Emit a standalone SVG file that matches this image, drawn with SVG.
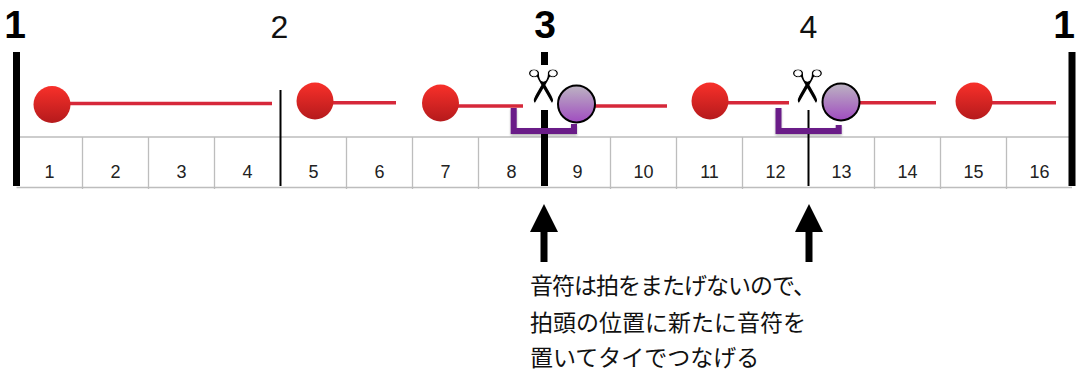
<svg xmlns="http://www.w3.org/2000/svg" width="1076" height="371" viewBox="0 0 1076 371">
<defs>
<linearGradient id="red" x1="0" y1="0" x2="0" y2="1">
<stop offset="0" stop-color="#f8302a"/>
<stop offset="1" stop-color="#b51a1c"/>
</linearGradient>
<linearGradient id="purple" x1="0" y1="0" x2="0" y2="1">
<stop offset="0" stop-color="#bcb4c2"/>
<stop offset="1" stop-color="#a04cc0"/>
</linearGradient>
<filter id="sh" x="-20%" y="-20%" width="140%" height="160%">
<feDropShadow dx="0" dy="1.5" stdDeviation="1.2" flood-color="#000" flood-opacity="0.3"/>
</filter>
<marker id="ah" viewBox="0 0 28 28" refX="14" refY="14" markerWidth="28" markerHeight="28" markerUnits="userSpaceOnUse" orient="auto">
<path d="M0,0 L28,14 L0,28 z" fill="#000"/>
</marker>
</defs>
<style>
.grid{stroke:#bdbdbd;stroke-width:1.3;fill:none}
.cell{font-family:"Liberation Sans",Arial,sans-serif;font-size:18px;fill:#222;text-anchor:middle}
.big{font-family:"Liberation Sans",Arial,sans-serif;font-size:39px;font-weight:bold;fill:#000;text-anchor:middle}
.beat{font-family:"Liberation Sans",Arial,sans-serif;font-size:32px;fill:#111;text-anchor:middle}
.tie{stroke:#d6283a;stroke-width:3.5;fill:none}
.rn{fill:url(#red)}
.pn{fill:url(#purple);stroke:#000;stroke-width:2}
.br{fill:none;stroke:#6a1f88;stroke-width:6;stroke-linejoin:miter;filter:url(#sh)}
.sc{font-family:"DejaVu Sans",sans-serif;font-size:38px;fill:#000;stroke:#fff;stroke-width:0.7;text-anchor:middle}
.note{font-family:"Noto Sans CJK JP","Noto Sans CJK SC",sans-serif;font-size:23px;fill:#111}
</style>
<rect width="1076" height="371" fill="#fff"/>
<g id="grid">
<line class="grid" x1="16.5" y1="137" x2="1072" y2="137"/>
<line class="grid" x1="16.5" y1="187.5" x2="1072" y2="187.5"/>
<path class="grid" d="M82.5,137V189M148.5,137V189M214.5,137V189M346.5,137V189M412.5,137V189M478.5,137V189M610.5,137V189M676.5,137V189M742.5,137V189M874.5,137V189M940.5,137V189M1006.5,137V189"/>
</g>
<g id="cells">
<text class="cell" x="49.5" y="178">1</text>
<text class="cell" x="115.5" y="178">2</text>
<text class="cell" x="181.5" y="178">3</text>
<text class="cell" x="247.5" y="178">4</text>
<text class="cell" x="313.5" y="178">5</text>
<text class="cell" x="379.5" y="178">6</text>
<text class="cell" x="445.5" y="178">7</text>
<text class="cell" x="511.5" y="178">8</text>
<text class="cell" x="577.5" y="178">9</text>
<text class="cell" x="643.5" y="178">10</text>
<text class="cell" x="709.5" y="178">11</text>
<text class="cell" x="775.5" y="178">12</text>
<text class="cell" x="841.5" y="178">13</text>
<text class="cell" x="907.5" y="178">14</text>
<text class="cell" x="973.5" y="178">15</text>
<text class="cell" x="1039.5" y="178">16</text>
</g>
<g id="barlines">
<line x1="16.5" y1="52" x2="16.5" y2="186" stroke="#000" stroke-width="7"/>
<line x1="1072" y1="52" x2="1072" y2="186" stroke="#000" stroke-width="7"/>
<line x1="280.5" y1="90" x2="280.5" y2="186" stroke="#000" stroke-width="2"/>
<line x1="544.5" y1="52" x2="544.5" y2="65" stroke="#000" stroke-width="7"/>
<line x1="544.5" y1="110" x2="544.5" y2="186" stroke="#000" stroke-width="7"/>
<line x1="808.5" y1="110" x2="808.5" y2="186" stroke="#000" stroke-width="2"/>
</g>
<g id="labels">
<text class="big" x="15" y="38">1</text>
<text class="beat" x="279.5" y="38">2</text>
<text class="big" x="545" y="38">3</text>
<text class="beat" x="808.5" y="38">4</text>
<text class="big" x="1064" y="38">1</text>
</g>
<g id="connectors">
<line class="tie" x1="58" y1="103.5" x2="272" y2="103.5"/>
<line class="tie" x1="330" y1="102.7" x2="396" y2="102.7"/>
<line class="tie" x1="456" y1="106" x2="523" y2="106"/>
<line class="tie" x1="594" y1="106" x2="667" y2="106"/>
<line class="tie" x1="725" y1="102.7" x2="789" y2="102.7"/>
<line class="tie" x1="858" y1="102.7" x2="936" y2="102.7"/>
<line class="tie" x1="990" y1="102.7" x2="1056" y2="102.7"/>
<path class="br" d="M513.7,108V131H574V124"/>
<path class="br" d="M778.5,108V131H838.7V125"/>
<line x1="544" y1="262" x2="544" y2="218" stroke="#000" stroke-width="7" marker-end="url(#ah)"/>
<line x1="809" y1="262" x2="809" y2="218" stroke="#000" stroke-width="7" marker-end="url(#ah)"/>
</g>
<g id="scissors1"><text class="sc" transform="translate(544.5,86.5) rotate(90) scale(1.23,1.76)" y="14.5">✂</text></g>
<g id="scissors2"><text class="sc" transform="translate(809,86.5) rotate(90) scale(1.23,1.76)" y="14.5">✂</text></g>
<g id="n1"><circle class="rn" cx="52" cy="104.5" r="18.5"/></g>
<g id="n2"><circle class="rn" cx="315" cy="101" r="18.5"/></g>
<g id="n3"><circle class="rn" cx="440.5" cy="103" r="18.5"/></g>
<g id="n4"><circle class="pn" cx="576.5" cy="104" r="18.5"/></g>
<g id="n5"><circle class="rn" cx="710" cy="101" r="18.5"/></g>
<g id="n6"><circle class="pn" cx="841" cy="102" r="18.5"/></g>
<g id="n7"><circle class="rn" cx="974" cy="101" r="18.5"/></g>
<g id="caption">
<text class="note" x="530" y="294" letter-spacing="-1">音符は拍をまたげないので、</text>
<text class="note" x="530" y="330.5">拍頭の位置に新たに音符を</text>
<text class="note" x="530" y="366">置いてタイでつなげる</text>
</g>
</svg>
